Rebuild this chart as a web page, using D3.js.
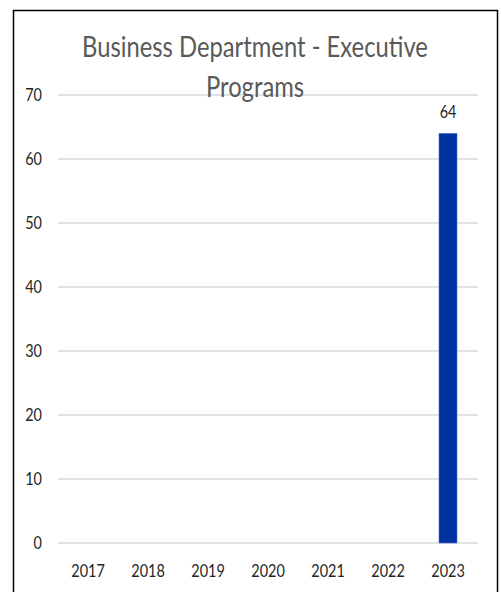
<!DOCTYPE html>
<html lang="en">
<head>
<meta charset="utf-8">
<title>Business Department - Executive Programs</title>
<script src="https://d3js.org/d3.v7.min.js"></script>
<style>
  body { margin: 0; background: #fff; }
  .chart text { font-family: Lato, "Open Sans", sans-serif; }
  .grid line { stroke: #d9d9d9; stroke-width: 1.3px; }
  .tick-label { fill: #262626; font-size: 17px; }
  .title { fill: #595959; font-size: 28px; }
</style>
</head>
<body>
<div class="chart" id="chart"></div>
<script>
  var years = ["2017", "2018", "2019", "2020", "2021", "2022", "2023"];
  var programs = [0, 0, 0, 0, 0, 0, 64];
  var yTicks = [0, 10, 20, 30, 40, 50, 60, 70];
  var titleLines = ["Business Department - Executive", "Programs"];

  var W = 501, H = 592;
  var squeeze = 0.85; // text in the original is narrow and tall

  var svg = d3.select("#chart").append("svg")
      .attr("width", W)
      .attr("height", H);

  function place(px, py) {
    return "translate(" + px + "," + py + ") scale(" + squeeze + ",1)";
  }

  // outer frame (bottom edge runs off the picture)
  svg.append("rect")
      .attr("x", 13.5).attr("y", 10.5)
      .attr("width", 484).attr("height", 600)
      .attr("fill", "none").attr("stroke", "#000").attr("stroke-width", 1.5);

  var x = d3.scaleBand().domain(years).range([58, 478]).paddingInner(0.7).paddingOuter(0.35);
  var y = d3.scaleLinear().domain([0, 70]).range([543, 95]);

  var grid = svg.append("g").attr("class", "grid");
  grid.selectAll("line").data(yTicks).enter().append("line")
      .attr("x1", 58).attr("x2", 478)
      .attr("y1", function(d) { return y(d); })
      .attr("y2", function(d) { return y(d); });

  svg.append("g").selectAll("text").data(yTicks).enter().append("text")
      .attr("class", "tick-label")
      .attr("transform", function(d) { return place(42, y(d) + 6); })
      .attr("text-anchor", "end")
      .text(function(d) { return d; });

  svg.append("g").selectAll("text").data(years).enter().append("text")
      .attr("class", "tick-label")
      .attr("transform", function(d) { return place(x(d) + x.bandwidth() / 2, 577); })
      .attr("text-anchor", "middle")
      .text(function(d) { return d; });

  var data = years.map(function(yr, i) { return { year: yr, value: programs[i] }; });
  var shown = data.filter(function(d) { return d.value > 0; });

  svg.append("g").selectAll("rect").data(shown)
    .enter().append("rect")
      .attr("x", function(d) { return x(d.year); })
      .attr("width", x.bandwidth())
      .attr("y", function(d) { return y(d.value); })
      .attr("height", function(d) { return y(0) - y(d.value); })
      .attr("fill", "#0033a0")
      .attr("stroke", "#4a6fd0").attr("stroke-width", 0.6);

  svg.append("g").selectAll("text").data(shown)
    .enter().append("text")
      .attr("class", "tick-label")
      .attr("transform", function(d) { return place(x(d.year) + x.bandwidth() / 2, y(d.value) - 15); })
      .attr("text-anchor", "middle")
      .text(function(d) { return d.value; });

  svg.append("g").selectAll("text").data(titleLines).enter().append("text")
      .attr("class", "title")
      .attr("transform", function(d, i) { return place(255, 57 + i * 40); })
      .attr("text-anchor", "middle")
      .text(function(d) { return d; });
</script>
</body>
</html>
